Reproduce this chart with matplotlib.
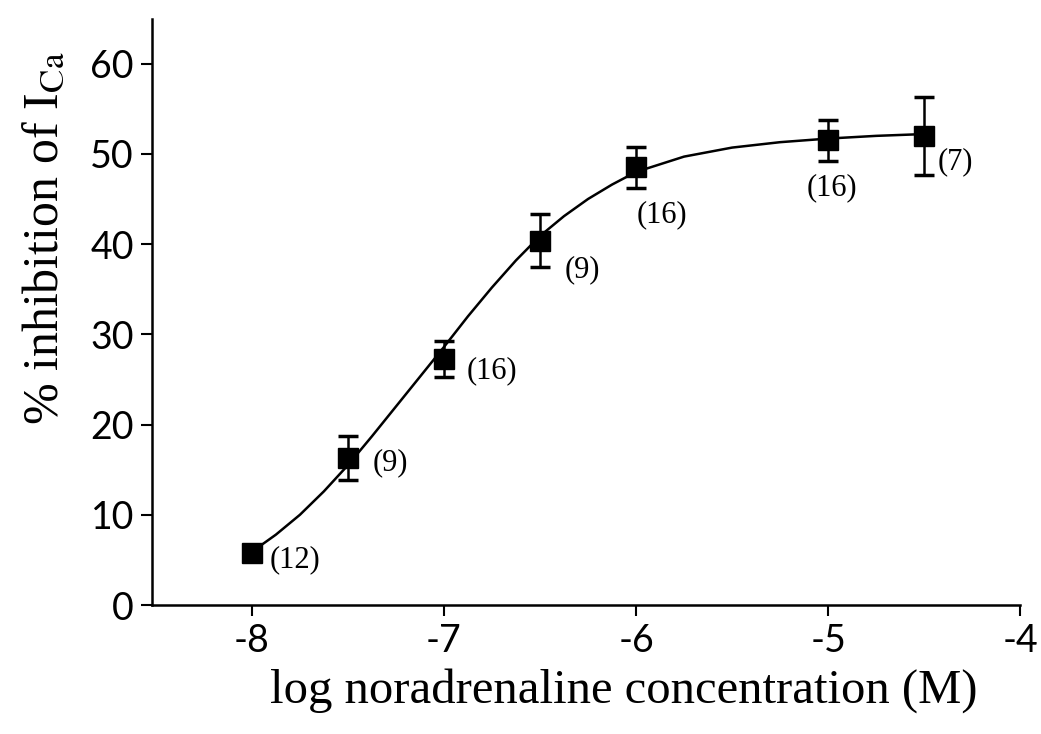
import matplotlib
matplotlib.use("Agg")
import matplotlib.pyplot as plt

# data
log_conc = [-8.0, -7.5, -7.0, -6.5, -6.0, -5.0, -4.5]
inhibition = [5.8, 16.3, 27.3, 40.4, 48.5, 51.5, 52.0]
sem = [0.5, 2.4, 2.0, 2.9, 2.3, 2.3, 4.3]
n_cells = ["(12)", "(9)", "(16)", "(9)", "(16)", "(16)", "(7)"]
label_x = [-7.91, -7.37, -6.88, -6.37, -5.865, -4.98, -4.43]
label_y = [5.0, 15.8, 26.0, 37.2, 43.3, 46.2, 49.1]
label_ha = ["left", "left", "left", "left", "center", "center", "left"]

# fitted curve
curve_x = [-8.0, -7.875, -7.75, -7.625, -7.5, -7.375, -7.25, -7.125, -7.0,
           -6.875, -6.75, -6.625, -6.5, -6.375, -6.25, -6.125, -6.0,
           -5.75, -5.5, -5.25, -5.0, -4.75, -4.5]
curve_y = [5.9, 7.8, 10.0, 12.6, 15.5, 18.7, 22.0, 25.3, 28.6,
           32.0, 35.2, 38.2, 40.9, 43.1, 45.0, 46.6, 48.0,
           49.7, 50.7, 51.3, 51.7, 52.0, 52.2]

x_ticks = [-8, -7, -6, -5, -4]
y_ticks = [0, 10, 20, 30, 40, 50, 60]

plt.rcParams['mathtext.fontset'] = 'stix'

fig = plt.figure(figsize=(10.41, 7.34), dpi=100)
ax = fig.add_axes([0.146, 0.1757, 0.834, 0.799])

ax.plot(curve_x, curve_y, color='black', lw=1.8, zorder=2)
ax.errorbar(log_conc, inhibition, yerr=sem, fmt='s', color='black',
            ms=15, ecolor='black', elinewidth=1.8, capsize=7.5, capthick=2.5,
            zorder=3)

for lx, ly, t, ha in zip(label_x, label_y, n_cells, label_ha):
    ax.text(lx, ly, t, ha=ha, va='center', fontsize=22,
            family='Liberation Serif')

ax.set_xlim(-8.52, -4.0)
ax.set_ylim(0, 65)
ax.set_xticks(x_ticks)
ax.set_yticks(y_ticks)
ax.set_xticklabels([f"-{abs(v)}" for v in x_ticks])
ax.set_yticklabels([str(v) for v in y_ticks])

for s in ['top', 'right']:
    ax.spines[s].set_visible(False)
for s in ['left', 'bottom']:
    ax.spines[s].set_linewidth(1.8)

ax.tick_params(axis='both', direction='out', length=8, width=1.5,
               labelsize=27, pad=5)
for lbl in ax.get_xticklabels() + ax.get_yticklabels():
    lbl.set_family('Lato')

ax.set_xlabel('log noradrenaline concentration (M)', fontsize=35,
              family='Liberation Serif')
ax.set_ylabel(r'% inhibition of I$_{\mathrm{Ca}}$', fontsize=36,
              family='Liberation Serif')
ax.xaxis.label.set_va('center')
ax.yaxis.label.set_va('center')
ax.xaxis.set_label_coords(0.543, -0.145)
ax.yaxis.set_label_coords(-0.123, 0.626)

fig.savefig('out.png', dpi=100)
